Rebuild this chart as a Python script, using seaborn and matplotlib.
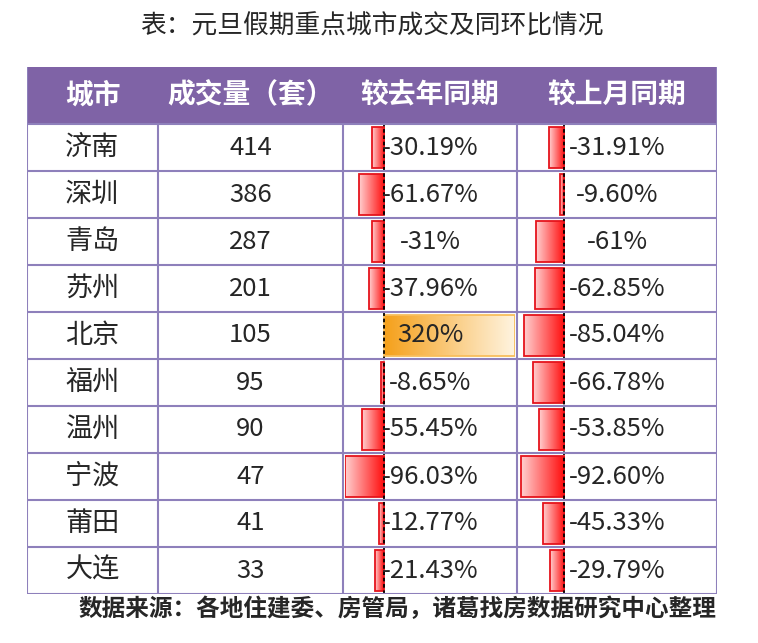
import numpy as np
import pandas as pd
import seaborn as sns
import matplotlib.pyplot as plt
from matplotlib.patches import Rectangle
from matplotlib.colors import LinearSegmentedColormap

# table data
cities = ['济南', '深圳', '青岛', '苏州', '北京', '福州', '温州', '宁波', '莆田', '大连']
volume = [414, 386, 287, 201, 105, 95, 90, 47, 41, 33]
yoy = [-30.19, -61.67, -31, -37.96, 320, -8.65, -55.45, -96.03, -12.77, -21.43]
mom = [-31.91, -9.60, -61, -62.85, -85.04, -66.78, -53.85, -92.60, -45.33, -29.79]
yoy_labels = ['-30.19%', '-61.67%', '-31%', '-37.96%', '320%', '-8.65%', '-55.45%', '-96.03%', '-12.77%', '-21.43%']
mom_labels = ['-31.91%', '-9.60%', '-61%', '-62.85%', '-85.04%', '-66.78%', '-53.85%', '-92.60%', '-45.33%', '-29.79%']
headers = ['城市', '成交量（套）', '较去年同期', '较上月同期']
title = '表：元旦假期重点城市成交及同环比情况'
source = '数据来源：各地住建委、房管局，诸葛找房数据研究中心整理'

sns.set_style('white')
plt.rcParams['font.family'] = ['Noto Sans CJK SC', 'DejaVu Sans']

W, H = 758, 643
fig = plt.figure(figsize=(W / 100, H / 100), dpi=100)

col_edges = [27, 158, 343, 517, 717]
top, head_bot, bottom = 67, 124, 594
purple = '#7F63A6'
grid_c = '#8E80BB'


def fig_box(x0, y0, x1, y1):
    # pixel box -> figure fraction
    return [x0 / W, 1 - y1 / H, (x1 - x0) / W, (y1 - y0) / H]


n = len(cities)
row_h = (bottom - head_bot) / n
head_rows = (head_bot - top) / row_h

# table frame + text (on top)
ax = fig.add_axes(fig_box(col_edges[0], top, col_edges[-1], bottom), zorder=2)
ax.set_xlim(col_edges[0], col_edges[-1])
ax.set_ylim(n - 0.5, -0.5 - head_rows)
ax.patch.set_alpha(0)
ax.axis('off')

ax.add_patch(Rectangle((col_edges[0], -0.5 - head_rows), col_edges[-1] - col_edges[0], head_rows,
                       color=purple, lw=0))
for i in range(n + 1):
    ax.plot([col_edges[0], col_edges[-1]], [i - 0.5, i - 0.5], color=grid_c, lw=1.5)
for j, x in enumerate(col_edges):
    y_top = -0.5 - head_rows if j in (0, len(col_edges) - 1) else -0.5
    ax.plot([x, x], [y_top, n - 0.5], color=grid_c, lw=1.5)

centers = [(a + b) / 2 for a, b in zip(col_edges[:-1], col_edges[1:])]
for c, h in zip(centers, headers):
    ax.text(c, -0.5 - head_rows / 2, h, ha='center', va='center', color='white',
            fontsize=20, fontweight='bold')

for i in range(n):
    ax.text(centers[0], i, cities[i], ha='center', va='center', fontsize=19.5)
    ax.text(centers[1], i, str(volume[i]), ha='center', va='center', fontsize=18.5)
    ax.text(centers[2], i, yoy_labels[i], ha='center', va='center', fontsize=18.5)
    ax.text(centers[3], i, mom_labels[i], ha='center', va='center', fontsize=18.5)

# data bars, shared scale over both columns
lo = min(min(yoy), min(mom), 0)
hi = max(max(yoy), max(mom), 0)
df = pd.DataFrame({'城市': cities, 'yoy': yoy, 'mom': mom})

neg_cmap = LinearSegmentedColormap.from_list('neg', ['#FFD0D0', '#FF0A0A'])
pos_cmap = LinearSegmentedColormap.from_list('pos', ['#F5A01A', '#FFF4E0'])
grad = np.linspace(0, 1, 256).reshape(1, -1)

for col, c0, c1 in [('yoy', col_edges[2], col_edges[3]), ('mom', col_edges[3], col_edges[4])]:
    bax = fig.add_axes(fig_box(c0 + 2, head_bot, c1 - 2, bottom), zorder=1)
    sns.barplot(data=df, x=col, y='城市', orient='h', width=0.86, errorbar=None,
                color='red', ax=bax)
    for p in list(bax.patches):
        x0, x1 = sorted([p.get_x(), p.get_x() + p.get_width()])
        y0, y1 = p.get_y(), p.get_y() + p.get_height()
        if x1 <= 0:
            cmap, edge = neg_cmap, '#E5141C'
        else:
            cmap, edge = pos_cmap, '#F8BE5C'
        bax.imshow(grad, extent=(x0, x1, y1, y0), aspect='auto', cmap=cmap, zorder=2)
        p.set_facecolor('none')
        p.set_edgecolor(edge)
        p.set_linewidth(1.3)
        p.set_zorder(3)
    bax.axvline(0, color='black', ls=(0, (2, 1.5)), lw=1.3, zorder=4)
    bax.set_xlim(lo, hi)
    bax.set_ylim(n - 0.5, -0.5)
    bax.axis('off')

fig.text(372 / W, 1 - 27 / H, title, ha='center', va='center', fontsize=18.5)
fig.text(397 / W, 1 - 609 / H, source, ha='center', va='center', fontsize=17,
         fontweight='bold')

fig.savefig('out.png', dpi=100)
